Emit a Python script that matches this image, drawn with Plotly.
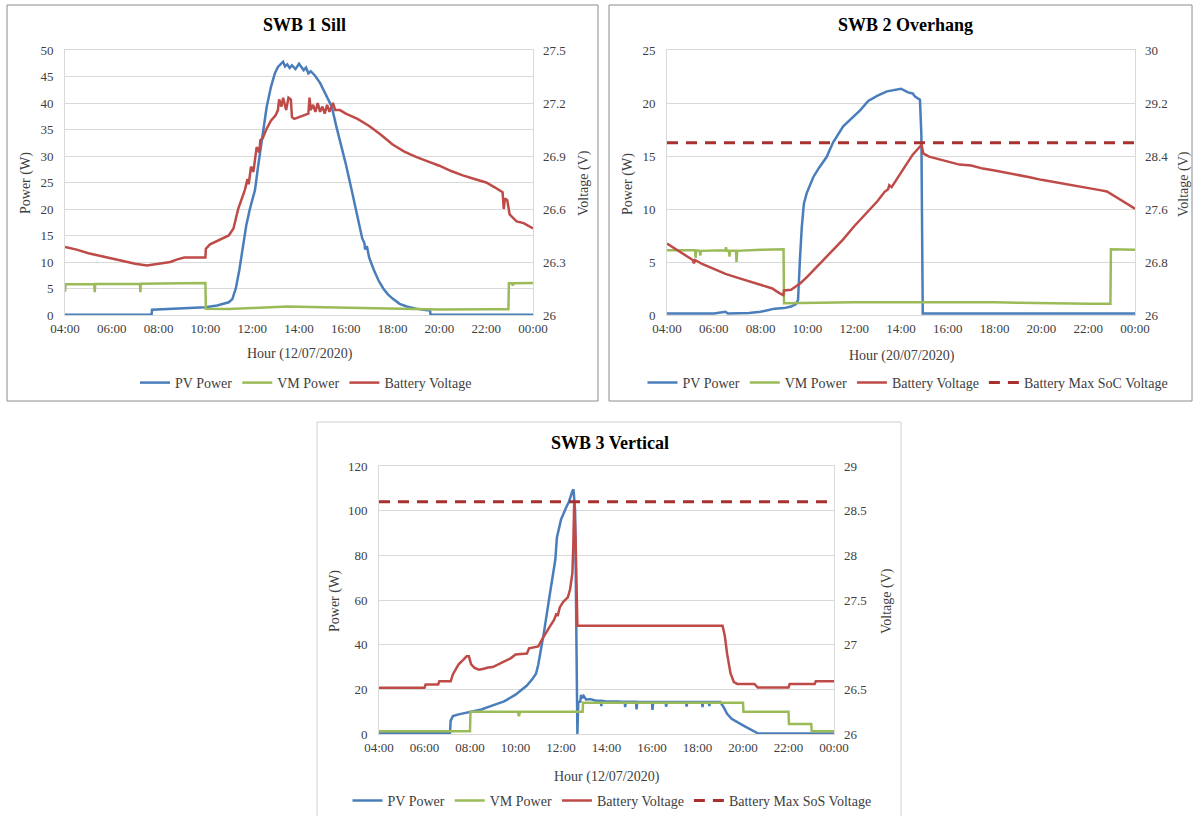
import plotly.graph_objects as go

# ---------------- DATA (hours since midnight, 24 = 00:00 next day) ----------------
hour_ticks = [4, 6, 8, 10, 12, 14, 16, 18, 20, 22, 24]
hour_labels = ["04:00", "06:00", "08:00", "10:00", "12:00", "14:00",
               "16:00", "18:00", "20:00", "22:00", "00:00"]

# SWB 1 Sill (12/07/2020)
sill_pv_t = [4.0, 7.70, 7.72, 8.5, 9.0, 10.0, 10.5, 11.0, 11.15, 11.3, 11.45, 11.6, 11.75, 11.9,
             12.12, 12.25, 12.4, 12.62, 12.8, 12.97, 13.1, 13.2, 13.32, 13.4, 13.5, 13.6, 13.7,
             13.85, 14.0, 14.1, 14.2, 14.3, 14.4, 14.5, 14.68, 14.9, 15.1, 15.4, 15.6, 15.75,
             16.0, 16.25, 16.5, 16.7, 16.8, 16.82, 16.9, 17.0, 17.2, 17.4, 17.6, 17.8, 18.0,
             18.3, 18.6, 19.0, 19.4, 19.6, 19.62, 24.0]
sill_pv_w = [0.05, 0.05, 1.0, 1.15, 1.25, 1.45, 1.8, 2.4, 3.0, 5.0, 8.5, 13.0, 17.0, 20.0,
             23.6, 28.0, 33.0, 39.3, 43.0, 45.6, 46.8, 47.2, 47.8, 46.9, 47.3, 46.6, 47.1,
             46.4, 47.4, 46.8, 46.2, 46.7, 45.6, 46.0, 45.2, 43.8, 42.0, 39.3, 35.5, 33.0,
             28.5, 23.6, 18.5, 14.5, 13.5, 12.4, 13.0, 10.8, 8.5, 6.5, 5.0, 3.9, 3.1,
             2.1, 1.6, 1.2, 0.95, 0.85, 0.05, 0.05]
sill_vm_t = [4.0, 4.02, 5.25, 5.27, 5.29, 7.2, 7.22, 7.24, 9.0, 10.0, 10.02, 11.0, 12.0, 13.0,
             13.5, 14.5, 15.5, 16.5, 18.0, 20.0, 22.0, 22.95, 22.97, 23.1, 23.12, 23.2, 24.0]
sill_vm_w = [4.4, 5.8, 5.85, 4.3, 5.85, 5.9, 4.3, 5.9, 6.0, 6.05, 1.2, 1.15, 1.3, 1.5,
             1.6, 1.5, 1.4, 1.3, 1.2, 1.05, 1.1, 1.1, 6.0, 6.0, 5.6, 6.0, 6.05]
sill_bat_t = [4.0, 4.5, 5.0, 5.5, 6.0, 6.5, 7.0, 7.5, 8.0, 8.5, 8.8, 9.1, 10.0, 10.02, 10.2,
              10.5, 11.0, 11.2, 11.4, 11.69, 11.8, 11.85, 11.95, 12.05, 12.19, 12.3, 12.35,
              12.45, 12.6, 12.8, 13.0, 13.1, 13.15, 13.25, 13.32, 13.45, 13.55, 13.65, 13.7,
              13.8, 14.0, 14.2, 14.4, 14.45, 14.5, 14.6, 14.7, 14.8, 14.9, 15.0, 15.1, 15.2,
              15.3, 15.45, 15.55, 15.75, 16.0, 16.5, 17.0, 17.5, 18.0, 18.5, 19.0, 19.5, 20.0,
              20.5, 21.0, 21.5, 22.0, 22.4, 22.7, 22.75, 22.8, 22.9, 23.0, 23.3, 23.6, 24.0]
sill_bat_v = [26.385, 26.37, 26.35, 26.335, 26.32, 26.305, 26.29, 26.28, 26.29, 26.30, 26.315,
              26.325, 26.325, 26.375, 26.40, 26.42, 26.45, 26.49, 26.60, 26.71, 26.77, 26.74,
              26.84, 26.81, 26.95, 26.92, 26.99, 27.0, 27.05, 27.10, 27.13, 27.16, 27.22, 27.18,
              27.23, 27.16, 27.23, 27.22, 27.12, 27.11, 27.12, 27.13, 27.14, 27.23, 27.16,
              27.19, 27.15, 27.20, 27.15, 27.18, 27.14, 27.19, 27.15, 27.20, 27.16, 27.16,
              27.14, 27.11, 27.07, 27.02, 26.965, 26.925, 26.895, 26.87, 26.845, 26.815, 26.79,
              26.77, 26.75, 26.72, 26.695, 26.60, 26.66, 26.65, 26.57, 26.53, 26.52, 26.49]

# SWB 2 Overhang (20/07/2020)
over_pv_t = [4.0, 6.0, 6.5, 6.6, 7.5, 8.0, 8.3, 8.6, 9.0, 9.3, 9.5, 9.6, 9.68, 9.76, 9.85, 9.97,
             10.25, 10.5, 10.82, 11.1, 11.53, 11.9, 12.25, 12.6, 13.0, 13.4, 13.67, 14.0, 14.3,
             14.5, 14.6, 14.81, 14.87, 14.92, 14.93, 24.0]
over_pv_w = [0.15, 0.15, 0.3, 0.15, 0.2, 0.3, 0.45, 0.6, 0.65, 0.8, 1.0, 1.4, 5.2, 8.3, 10.5, 11.5,
             13.0, 13.9, 14.9, 16.3, 17.8, 18.6, 19.3, 20.2, 20.7, 21.1, 21.2, 21.35, 21.0,
             20.9, 20.6, 20.3, 17.0, 5.0, 0.15, 0.15]
over_vm_t = [4.0, 5.2, 5.22, 5.25, 5.4, 5.42, 5.45, 6.5, 6.52, 6.55, 6.65, 6.67, 6.7, 6.95, 6.97,
             7.0, 8.0, 8.98, 9.0, 10.0, 11.0, 12.0, 13.0, 14.0, 15.0, 16.0, 17.0, 18.0, 19.0,
             20.0, 21.0, 22.0, 22.95, 22.97, 24.0]
over_vm_w = [6.1, 6.1, 5.4, 6.1, 6.05, 5.6, 6.05, 6.1, 6.4, 6.05, 6.05, 5.5, 6.05, 6.05, 5.0,
             6.05, 6.15, 6.2, 1.1, 1.15, 1.15, 1.2, 1.2, 1.2, 1.25, 1.25, 1.25, 1.2, 1.15,
             1.1, 1.05, 1.05, 1.05, 6.2, 6.15]
over_bat_t = [4.0, 4.5, 5.0, 5.1, 5.15, 5.2, 5.5, 6.0, 6.5, 7.0, 7.5, 8.0, 8.5, 8.8, 8.97, 9.0,
              9.3, 9.5, 9.7, 10.0, 10.5, 11.0, 11.5, 12.0, 12.5, 13.0, 13.3, 13.45, 13.5, 13.6,
              14.0, 14.5, 14.88, 14.95, 15.2, 15.5, 16.0, 16.5, 17.0, 17.5, 18.0, 18.5, 19.0,
              19.5, 20.0, 20.5, 21.0, 21.5, 22.0, 22.5, 22.8, 23.0, 23.5, 24.0]
over_bat_v = [27.08, 26.97, 26.86, 26.83, 26.78, 26.83, 26.77, 26.69, 26.62, 26.565, 26.51,
              26.465, 26.40, 26.33, 26.30, 26.37, 26.38, 26.43, 26.48, 26.58, 26.76, 26.94,
              27.13, 27.34, 27.53, 27.72, 27.86, 27.90, 27.96, 27.93, 28.15, 28.42, 28.57,
              28.44, 28.39, 28.36, 28.32, 28.27, 28.255, 28.21, 28.18, 28.15, 28.115, 28.08,
              28.04, 28.01, 27.98, 27.95, 27.925, 27.885, 27.865, 27.82, 27.71, 27.605]
over_max_v = 28.6

# SWB 3 Vertical (12/07/2020)
vert_pv_t = [4.0, 7.12, 7.15, 7.25, 7.5, 8.0, 8.5, 9.0, 9.5, 10.0, 10.5, 10.75, 10.9, 11.0, 11.25,
             11.5, 11.75, 11.82, 11.9, 12.0, 12.25, 12.35, 12.5, 12.55, 12.62, 12.67, 12.72,
             12.76, 12.85, 12.88, 12.95, 13.0, 13.1, 13.3, 13.5, 13.75, 13.77, 13.8, 14.0, 14.5,
             14.8, 14.82, 14.85, 15.3, 15.32, 15.35, 16.0, 16.02, 16.05, 16.6, 16.62, 16.65,
             17.5, 17.52, 17.55, 18.2, 18.22, 18.25, 18.5, 18.52, 18.55, 19.0, 19.15, 19.3,
             19.5, 20.0, 20.3, 20.5, 20.67, 24.0]
vert_pv_w = [0.3, 0.3, 6.0, 8.0, 8.8, 9.8, 11.0, 12.8, 14.6, 17.6, 21.7, 24.7, 27.0, 31.0, 45.5,
             62.0, 78.0, 88.0, 91.0, 96.0, 102.0, 104.0, 108.8, 109.5, 100.0, 60.0, 0.0,
             14.3, 14.5, 17.5, 16.0, 17.0, 15.5, 15.6, 15.0, 14.8, 12.5, 14.8, 14.6, 14.5,
             14.4, 12.0, 14.4, 14.4, 11.0, 14.4, 14.3, 10.8, 14.3, 14.3, 12.2, 14.3,
             14.3, 12.3, 14.3, 14.3, 12.0, 14.3, 14.3, 12.5, 14.3, 14.3, 12.0, 9.0,
             6.8, 3.9, 2.2, 0.9, 0.2, 0.2]
vert_vm_t = [4.0, 8.0, 8.02, 10.1, 10.15, 10.2, 12.95, 12.97, 20.0, 20.02, 22.0, 22.02, 23.0,
             23.02, 24.0]
vert_vm_w = [1.2, 1.2, 10.0, 10.0, 8.0, 10.0, 10.0, 14.0, 14.0, 10.0, 10.0, 4.5, 4.5, 1.2, 1.2]
vert_bat_t = [4.0, 5.0, 6.0, 6.05, 6.6, 6.65, 7.15, 7.25, 7.35, 7.5, 7.7, 7.85, 7.95, 8.05, 8.2,
              8.4, 8.6, 8.8, 9.0, 9.3, 9.5, 9.8, 10.0, 10.5, 10.6, 11.0, 11.15, 11.3, 11.5,
              11.7, 11.8, 11.85, 11.95, 12.1, 12.3, 12.4, 12.5, 12.54, 12.58, 12.64, 12.72,
              19.1, 19.2, 19.3, 19.45, 19.6, 19.75, 20.5, 20.65, 22.0, 22.05, 23.15, 23.2, 24.0]
vert_bat_v = [26.517, 26.52, 26.517, 26.555, 26.555, 26.59, 26.59, 26.67, 26.72, 26.78, 26.83,
              26.87, 26.87, 26.78, 26.74, 26.72, 26.73, 26.745, 26.75, 26.79, 26.81, 26.85,
              26.89, 26.90, 26.96, 26.98, 27.05, 27.12, 27.20, 27.28, 27.35, 27.32, 27.42,
              27.48, 27.53, 27.62, 27.80, 28.1, 28.6, 28.2, 27.213, 27.213, 27.10, 26.90,
              26.68, 26.58, 26.56, 26.56, 26.52, 26.52, 26.56, 26.56, 26.59, 26.59]
vert_max_v = 28.6

# ---------------- STYLE / LAYOUT ----------------
W, H = 1197, 816
FONT = "Liberation Serif, Times New Roman, serif"
C_PV, C_VM, C_BAT, C_MAX = "#4A7EBB", "#9BBB59", "#BE4B48", "#A8302E"
GRID = "#D9D9D9"
TXT = "#404040"


def px(x):
    return x / W


def py(y):
    return 1 - y / H


panels = [
    dict(n=1, box=(65, 50, 533, 315), left=(0, 50, 5), right=(26, 27.5, [26, 26.3, 26.6, 26.9, 27.2, 27.5]),
         title="SWB 1 Sill", hour="Hour (12/07/2020)", legend="legend",
         pv=(sill_pv_t, sill_pv_w), vm=(sill_vm_t, sill_vm_w), bat=(sill_bat_t, sill_bat_v), mx=None,
         mxname=None, frame=(7, 5, 598, 401), fcolor="#8C8C8C",
         tpos=(304, 25), ppos=(26, 183), vpos=(584, 183), hpos=(300, 354), lpos=(306, 383)),
    dict(n=2, box=(667, 50, 1135, 315), left=(0, 25, 5), right=(26, 30, [26, 26.8, 27.6, 28.4, 29.2, 30]),
         title="SWB 2 Overhang", hour="Hour (20/07/2020)", legend="legend2",
         pv=(over_pv_t, over_pv_w), vm=(over_vm_t, over_vm_w), bat=(over_bat_t, over_bat_v), mx=over_max_v,
         mxname="Battery Max SoC Voltage", frame=(609, 5, 1192, 401), fcolor="#8C8C8C",
         tpos=(905, 25), ppos=(628, 184), vpos=(1184, 184), hpos=(902, 356), lpos=(908, 383)),
    dict(n=3, box=(379, 466, 834, 734), left=(0, 120, 20), right=(26, 29, [26, 26.5, 27, 27.5, 28, 28.5, 29]),
         title="SWB 3 Vertical", hour="Hour (12/07/2020)", legend="legend3",
         pv=(vert_pv_t, vert_pv_w), vm=(vert_vm_t, vert_vm_w), bat=(vert_bat_t, vert_bat_v), mx=vert_max_v,
         mxname="Battery Max SoS Voltage", frame=(317, 422, 901, 830), fcolor="#D0D0D0",
         tpos=(610, 443), ppos=(335, 601), vpos=(887, 601), hpos=(607, 777), lpos=(612, 801)),
]

fig = go.Figure()
layout = dict(width=W, height=H, margin=dict(l=0, r=0, t=0, b=0, pad=0, autoexpand=False),
              paper_bgcolor="white", plot_bgcolor="white", showlegend=True,
              font=dict(family=FONT, size=13, color=TXT))
annotations, shapes = [], []

for p in panels:
    n = p["n"]
    xa = "x" if n == 1 else f"x{n}"
    ya = "y" if n == 1 else f"y{2*n-1}"
    yb = f"y{2*n}"
    xk = "xaxis" if n == 1 else f"xaxis{n}"
    yk = "yaxis" if n == 1 else f"yaxis{2*n-1}"
    ybk = f"yaxis{2*n}"
    x0, y0, x1, y1 = p["box"]
    layout[xk] = dict(domain=[px(x0), px(x1)], anchor=ya, range=[4, 24], tickvals=hour_ticks,
                      ticktext=hour_labels, showgrid=False, zeroline=False, showline=True,
                      mirror=True, linecolor=GRID, linewidth=1, ticks="", ticklabelstandoff=1,
                      tickfont=dict(family=FONT, size=13, color=TXT), fixedrange=True,
                      automargin=False)
    lo, hi, dt = p["left"]
    layout[yk] = dict(domain=[py(y1), py(y0)], anchor=xa, range=[lo, hi], dtick=dt, tick0=0,
                      showgrid=True, gridcolor=GRID, gridwidth=1, zeroline=False, showline=True,
                      mirror=True, linecolor=GRID, ticks="", ticklabelstandoff=8,
                      tickfont=dict(family=FONT, size=13, color=TXT), fixedrange=True,
                      automargin=False)
    rlo, rhi, rticks = p["right"]
    layout[ybk] = dict(overlaying=ya, side="right", anchor=xa, range=[rlo, rhi], tickvals=rticks,
                       ticktext=[f"{v:g}" for v in rticks], showgrid=False, zeroline=False,
                       showline=False, ticks="", ticklabelstandoff=9,
                       tickfont=dict(family=FONT, size=13, color=TXT), fixedrange=True,
                       automargin=False)

    lg = p["legend"]
    fig.add_trace(go.Scatter(x=p["pv"][0], y=p["pv"][1], mode="lines", name="PV Power",
                             line=dict(color=C_PV, width=2.5), xaxis=xa, yaxis=ya, legend=lg))
    fig.add_trace(go.Scatter(x=p["vm"][0], y=p["vm"][1], mode="lines", name="VM Power",
                             line=dict(color=C_VM, width=2.5), xaxis=xa, yaxis=ya, legend=lg))
    fig.add_trace(go.Scatter(x=p["bat"][0], y=p["bat"][1], mode="lines", name="Battery Voltage",
                             line=dict(color=C_BAT, width=2.5), xaxis=xa, yaxis=yb, legend=lg))
    if p["mx"] is not None:
        fig.add_trace(go.Scatter(x=[4, 24], y=[p["mx"], p["mx"]], mode="lines", name=p["mxname"],
                                 line=dict(color=C_MAX, width=3, dash="11px,8px"),
                                 xaxis=xa, yaxis=yb, legend=lg))

    lx, ly = p["lpos"]
    layout[lg] = dict(orientation="h", x=px(lx), y=py(ly), xanchor="center", yanchor="middle",
                      bgcolor="rgba(0,0,0,0)", font=dict(family=FONT, size=14, color=TXT),
                      itemwidth=30, tracegroupgap=0)

    tx, ty = p["tpos"]
    annotations.append(dict(text=f"<b>{p['title']}</b>", x=px(tx), y=py(ty), xref="paper", yref="paper",
                            showarrow=False, font=dict(family=FONT, size=18, color="#000000"),
                            xanchor="center", yanchor="middle"))
    for (ax_, ay_), txt, ang in [(p["ppos"], "Power (W)", -90), (p["vpos"], "Voltage (V)", -90),
                                 (p["hpos"], p["hour"], 0)]:
        annotations.append(dict(text=txt, x=px(ax_), y=py(ay_), xref="paper", yref="paper",
                                showarrow=False, textangle=ang,
                                font=dict(family=FONT, size=14, color=TXT),
                                xanchor="center", yanchor="middle"))
    fx0, fy0, fx1, fy1 = p["frame"]
    shapes.append(dict(type="rect", xref="paper", yref="paper", x0=px(fx0), x1=px(fx1),
                       y0=py(fy1), y1=py(fy0), line=dict(color=p["fcolor"], width=1),
                       fillcolor="rgba(0,0,0,0)", layer="below"))

layout["annotations"] = annotations
layout["shapes"] = shapes
fig.update_layout(**layout)
fig.write_html("out.html", config={"displayModeBar": False},
               post_script="document.body.style.margin='0';document.body.style.padding='0';"
                           "document.body.style.overflow='hidden';"
                           "document.documentElement.style.overflow='hidden';")
